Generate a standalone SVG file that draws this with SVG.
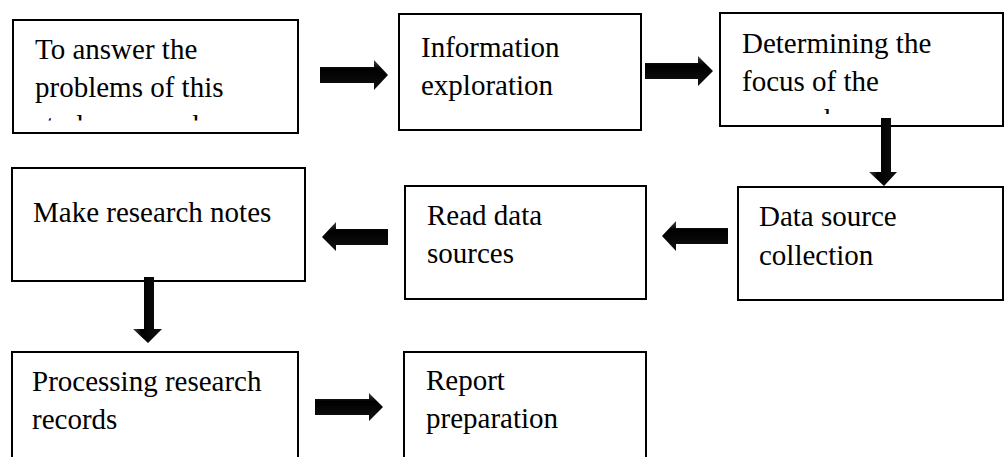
<svg xmlns="http://www.w3.org/2000/svg" width="1006" height="457" viewBox="0 0 1006 457">
<style>
.box{fill:#fff;stroke:#000;stroke-width:2}
.t{font-family:'Liberation Serif','Times New Roman','DejaVu Serif','Noto Serif',serif;font-size:29px;fill:#000}
.arr{stroke:none}
</style>
<defs>
<linearGradient id="gh" x1="0" y1="0" x2="0" y2="1">
<stop offset="0" stop-color="#444"/><stop offset="0.3" stop-color="#000"/><stop offset="1" stop-color="#111"/>
</linearGradient>
<linearGradient id="gv" x1="0" y1="0" x2="1" y2="0">
<stop offset="0" stop-color="#444"/><stop offset="0.3" stop-color="#000"/><stop offset="1" stop-color="#111"/>
</linearGradient>
<clipPath id="c1"><rect x="14" y="21" width="283" height="99.5"/></clipPath>
<clipPath id="c3"><rect x="721" y="14" width="281" height="100"/></clipPath>
</defs>
<g id="n1">
<rect class="box" x="13" y="20" width="285" height="113"/>
<g clip-path="url(#c1)">
<text class="t" x="35" y="59">To answer the</text>
<text class="t" x="35" y="97">problems of this</text>
<text class="t" x="35" y="135">study, researchers</text>
</g>
</g>
<g id="n2">
<rect class="box" x="399" y="14" width="242" height="116"/>
<text class="t" x="421" y="57">Information</text>
<text class="t" x="421" y="95">exploration</text>
</g>
<g id="n3">
<rect class="box" x="720" y="13" width="283" height="113"/>
<g clip-path="url(#c3)">
<text class="t" x="742" y="53">Determining the</text>
<text class="t" x="742" y="91">focus of the</text>
<text class="t" x="742" y="129">research</text>
</g>
</g>
<g id="n4">
<rect class="box" x="12" y="168" width="293" height="113"/>
<text class="t" x="33" y="222">Make research notes</text>
</g>
<g id="n5">
<rect class="box" x="405" y="186" width="241" height="113"/>
<text class="t" x="427" y="225">Read data</text>
<text class="t" x="427" y="263">sources</text>
</g>
<g id="n6">
<rect class="box" x="738" y="187" width="265" height="113"/>
<text class="t" x="759" y="226">Data source</text>
<text class="t" x="759" y="265">collection</text>
</g>
<g id="n7">
<rect class="box" x="12" y="352" width="286" height="120"/>
<text class="t" x="32" y="391">Processing research</text>
<text class="t" x="32" y="429">records</text>
</g>
<g id="n8">
<rect class="box" x="404" y="352" width="242" height="120"/>
<text class="t" x="426" y="390">Report</text>
<text class="t" x="426" y="428">preparation</text>
</g>
<g id="connectors">
<polygon class="arr" fill="url(#gh)" points="320,67 374,67 374,60 388,75 374,90 374,83 320,83"/>
<polygon class="arr" fill="url(#gh)" points="645,63 698,63 698,56 713,71 698,86 698,79 645,79"/>
<polygon class="arr" fill="url(#gv)" points="881,118 891,118 891,172 897,172 884,186 869,172 881,172"/>
<polygon class="arr" fill="url(#gh)" points="728,228 676,228 676,221 662,236 676,251 676,244 728,244"/>
<polygon class="arr" fill="url(#gh)" points="388,229 336,229 336,222 322,237 336,251 336,245 388,245"/>
<polygon class="arr" fill="url(#gv)" points="144,277 154,277 154,329 162,329 148,343 133,329 144,329"/>
<polygon class="arr" fill="url(#gh)" points="315,399 369,399 369,393 383,407 369,421 369,415 315,415"/>
</g>
</svg>
